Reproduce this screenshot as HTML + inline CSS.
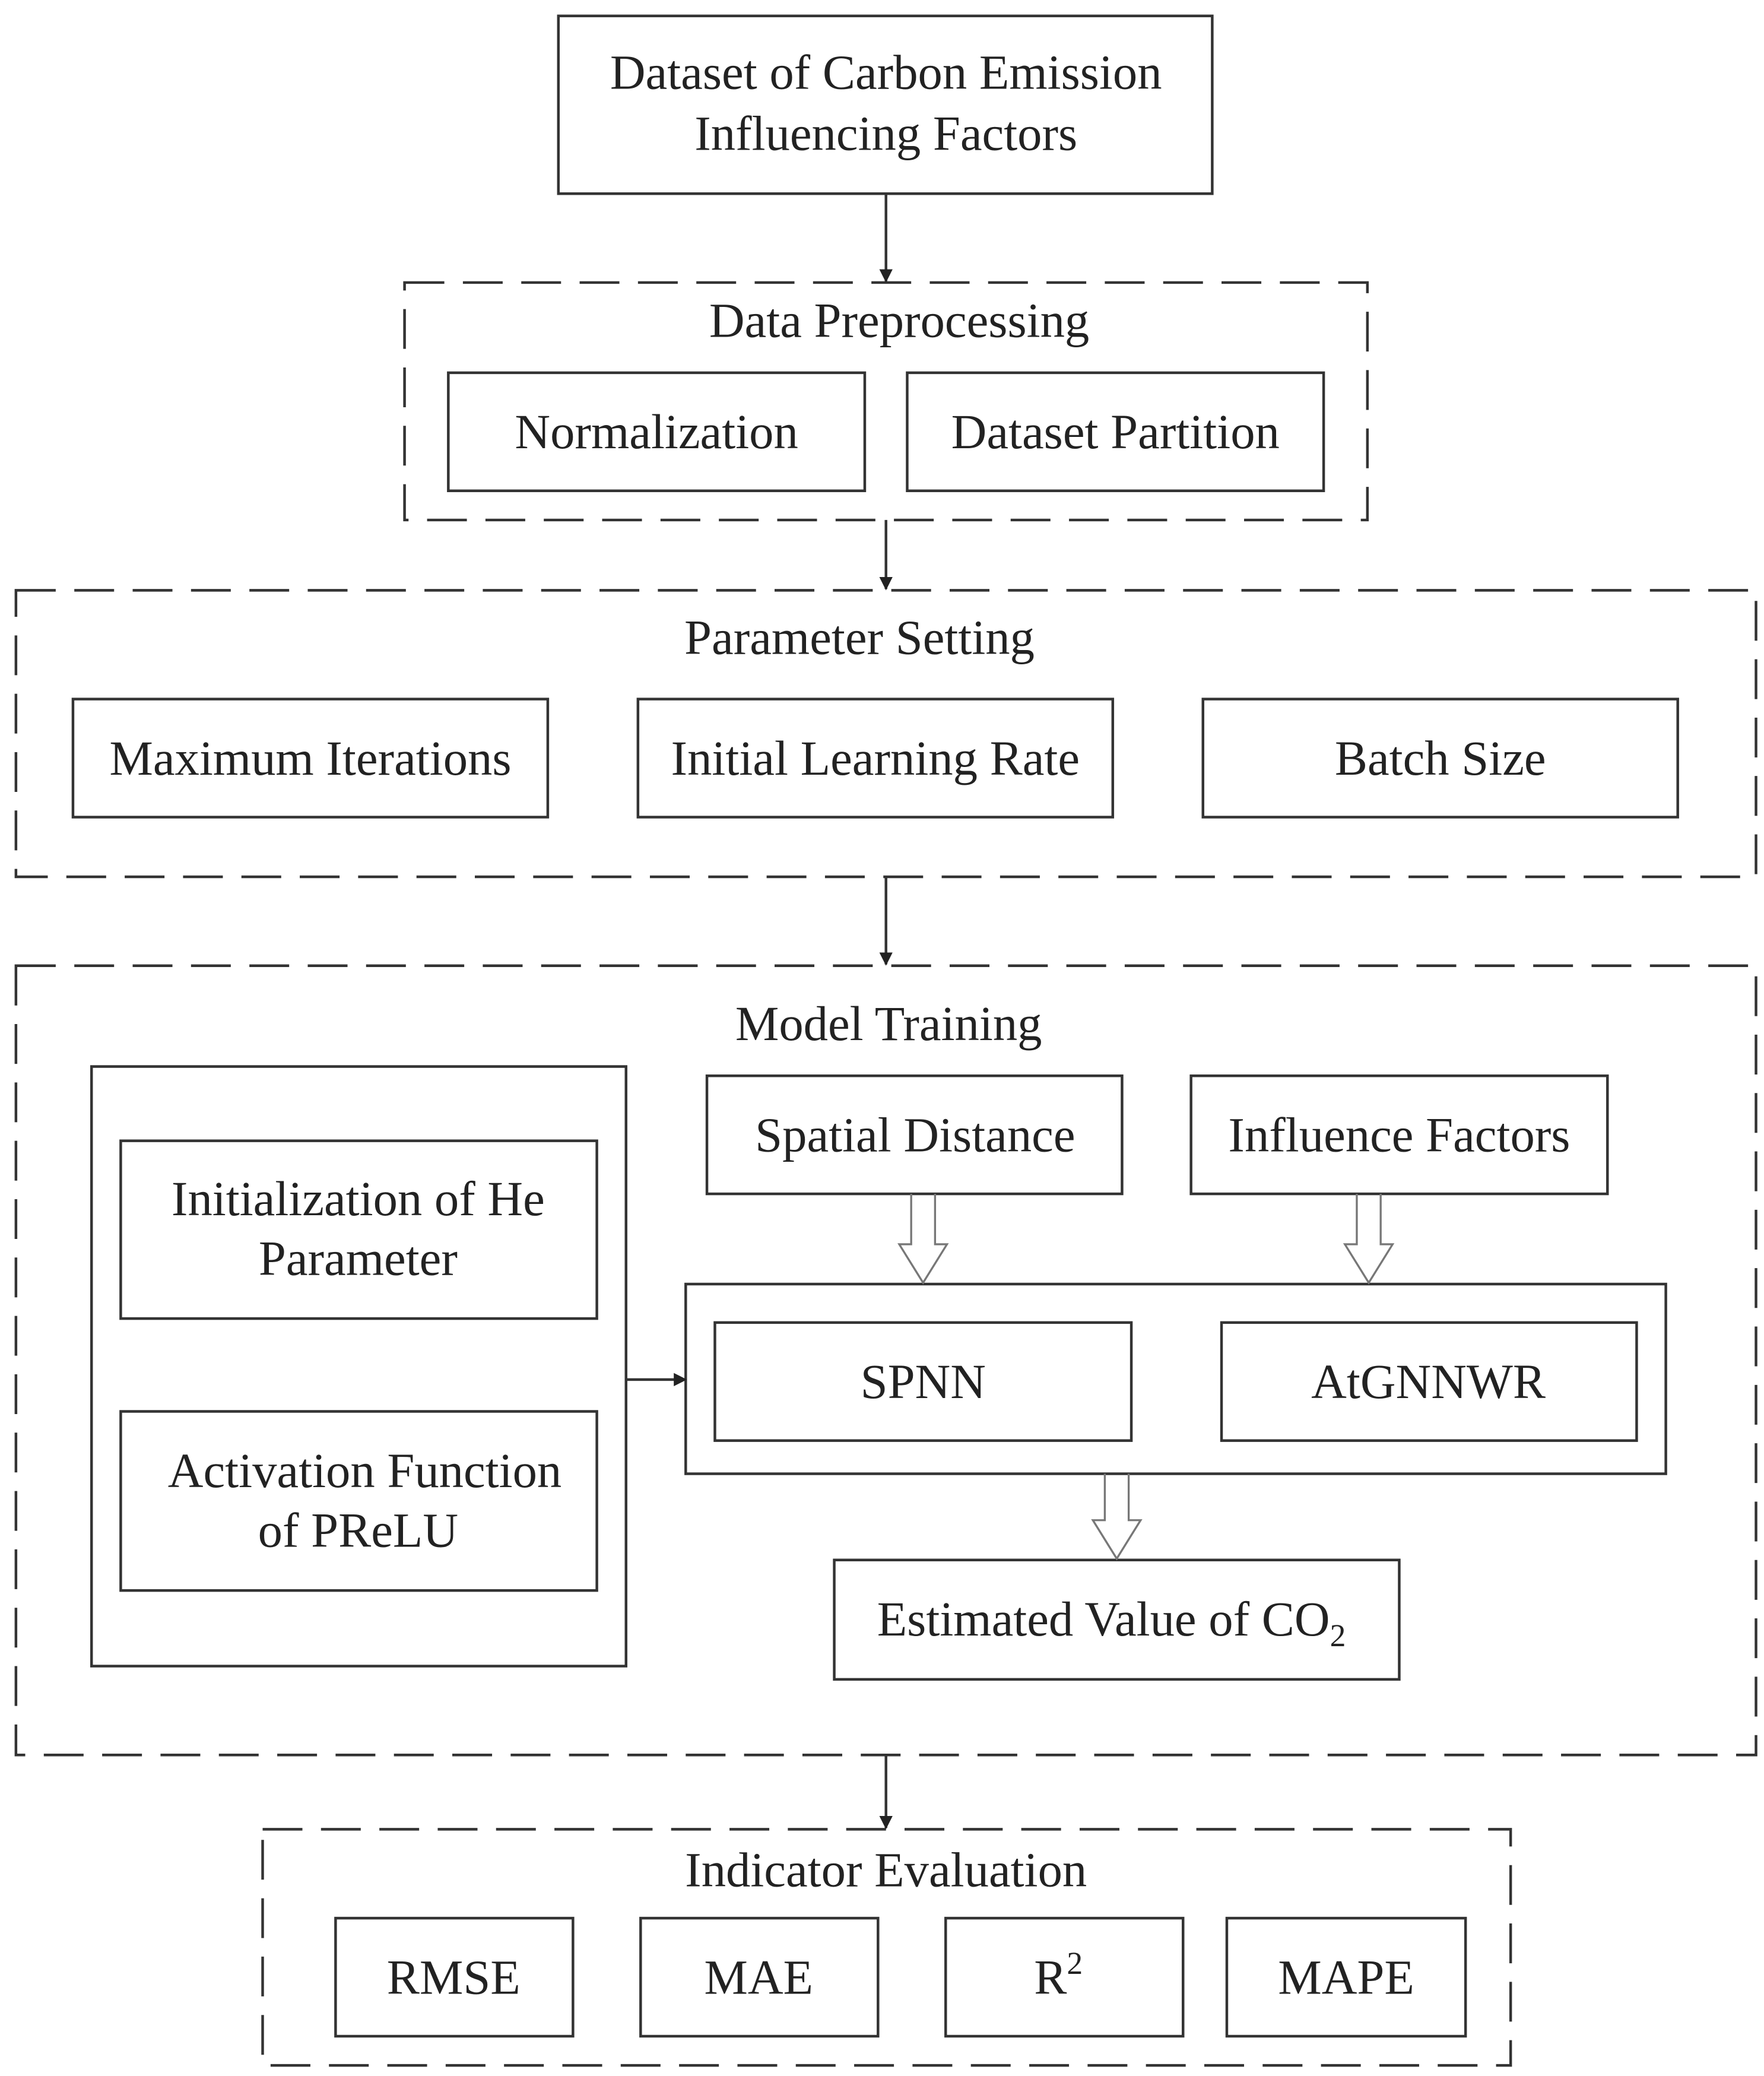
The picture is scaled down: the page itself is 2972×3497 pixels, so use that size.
<!DOCTYPE html>
<html><head><style>html,body{margin:0;padding:0;background:#fff}svg{display:block}</style></head>
<body>
<svg width="2972" height="3497" viewBox="0 0 1330 1565" xmlns="http://www.w3.org/2000/svg" font-family="Liberation Serif, serif" font-size="37" text-anchor="middle" fill="#222">
<defs>
<marker id="a" markerWidth="10" markerHeight="10" refX="9" refY="5" orient="auto" markerUnits="userSpaceOnUse"><path d="M0,0 L10,5 L0,10 Z" fill="#222"/></marker>
</defs>
<g fill="none" stroke="#333" stroke-width="2">
<rect x="421" y="12" width="493" height="134"/>
<g stroke-dasharray="30,14">
<rect x="305" y="213" width="726" height="179"/>
<rect x="12" y="445" width="1312" height="216"/>
<rect x="12" y="728" width="1312" height="595"/>
<rect x="198" y="1379" width="941" height="178"/>
</g>
<rect x="338" y="281" width="314" height="89"/>
<rect x="684" y="281" width="314" height="89"/>
<rect x="55" y="527" width="358" height="89"/>
<rect x="481" y="527" width="358" height="89"/>
<rect x="907" y="527" width="358" height="89"/>
<rect x="69" y="804" width="403" height="452"/>
<rect x="91" y="860" width="359" height="134"/>
<rect x="91" y="1064" width="359" height="135"/>
<rect x="533" y="811" width="313" height="89"/>
<rect x="898" y="811" width="314" height="89"/>
<rect x="517" y="968" width="739" height="143"/>
<rect x="539" y="997" width="314" height="89"/>
<rect x="921" y="997" width="313" height="89"/>
<rect x="629" y="1176" width="426" height="90"/>
<rect x="253" y="1446" width="179" height="89"/>
<rect x="483" y="1446" width="179" height="89"/>
<rect x="713" y="1446" width="179" height="89"/>
<rect x="925" y="1446" width="180" height="89"/>
<g marker-end="url(#a)">
<line x1="668" y1="146" x2="668" y2="212"/>
<line x1="668" y1="392" x2="668" y2="444"/>
<line x1="668" y1="661" x2="668" y2="727"/>
<line x1="668" y1="1323" x2="668" y2="1378"/>
<line x1="472" y1="1040" x2="517" y2="1040"/>
</g>
<g stroke="#777" stroke-width="1.5">
<path d="M687,900 V938 H678 L696,967 L714,938 H705 V900"/>
<path d="M1023,900 V938 H1014 L1032,967 L1050,938 H1041 V900"/>
<path d="M833,1111 V1146 H824 L842,1175 L860,1146 H851 V1111"/>
</g>
</g>
<text x="668" y="67">Dataset of Carbon Emission</text>
<text x="668" y="113">Influencing Factors</text>
<text x="678" y="254">Data Preprocessing</text>
<text x="495" y="338">Normalization</text>
<text x="841" y="338">Dataset Partition</text>
<text x="648" y="493">Parameter Setting</text>
<text x="234" y="584">Maximum Iterations</text>
<text x="660" y="584">Initial Learning Rate</text>
<text x="1086" y="584">Batch Size</text>
<text x="670" y="784">Model Training</text>
<text x="270" y="916">Initialization of He</text>
<text x="270" y="961">Parameter</text>
<text x="275" y="1121">Activation Function</text>
<text x="270" y="1166">of PReLU</text>
<text x="690" y="868">Spatial Distance</text>
<text x="1055" y="868">Influence Factors</text>
<text x="696" y="1054">SPNN</text>
<text x="1077" y="1054">AtGNNWR</text>
<text x="838" y="1233">Estimated Value of CO<tspan font-size="24" dy="8">2</tspan></text>
<text x="668" y="1422">Indicator Evaluation</text>
<text x="342" y="1503">RMSE</text>
<text x="572" y="1503">MAE</text>
<text x="798" y="1503">R<tspan font-size="24" dy="-15">2</tspan></text>
<text x="1015" y="1503">MAPE</text>
</svg>
</body></html>
